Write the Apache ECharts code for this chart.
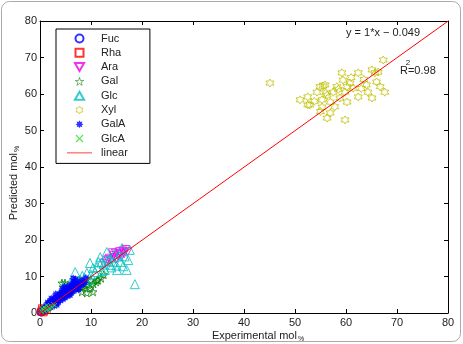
<!DOCTYPE html>
<html><head><meta charset="utf-8">
<script src="https://cdn.jsdelivr.net/npm/echarts@6/dist/echarts.min.js"></script>
<style>html,body{margin:0;padding:0;background:#fff}#c{width:463px;height:344px}</style>
</head><body><div id="c"></div>
<script>
const xTicks = [0,10,20,30,40,50,60,70,80];
const yTicks = [0,10,20,30,40,50,60,70,80];
const seriesNames = ['Fuc','Rha','Ara','Gal','Glc','Xyl','GalA','GlcA','linear'];

const fuc = [[0.1,0.2],[0.3,0.1],[0.2,0.5],[0.5,0.3],[0.6,0.7]];
const rha = [[0.2,0.4],[0.5,0.9],[0.8,0.5],[1,1.1],[0.4,1.3],[1.3,0.8],[0.7,0.2]];
const ara = [[12.5,13.5],[13,14],[13.6,15],[14,14.5],[14.4,15.8],[14.8,16.4],[15,14.8],[15.3,15.6],[15.6,16.8],[16,15.5],[16.2,17],[16.5,16.2],[16.8,17.4],[17.2,16.8],[15.8,16.2],[14.2,16.5],[13.3,14.6],[15.5,16],[16.4,16.6],[14.6,15.2]];
const gal = [[2.5,3],[3.5,4.5],[4.3,8.2],[4.9,8.2],[5,6],[5.5,7.7],[6,6.5],[6.3,6.3],[6.5,7.5],[7,6.8],[7.5,8],[8,7],[8.2,5.8],[8.4,7.1],[8.5,8.5],[9,7.5],[9.2,5.5],[9.4,7.7],[9.8,6.8],[10,9],[10.4,5.8],[10.5,8],[11,8.5],[11.2,9],[11.4,9],[12,9.5],[12.5,10.5],[6.8,8.8],[5.8,6.2],[7.8,9.2]];
const glc = [[4.5,7.1],[5.2,6.5],[5.9,8.2],[6.5,7.4],[6.9,11.2],[7.3,8.5],[7.8,9],[8.3,10.2],[8.8,9.5],[9.2,11],[9.8,13.7],[10,10.5],[10.4,12.3],[10.8,11.2],[11.2,12.6],[11.5,14],[11.8,15.3],[12.2,11.5],[12.5,13.3],[12.7,11.8],[13.1,16.7],[13.4,14.3],[13.7,15],[14,12.5],[14.3,14],[14.6,16.2],[15,13],[15.1,11.8],[15.5,15.5],[15.8,14],[16.1,17.8],[16.3,12.8],[16.6,15.5],[17,11.8],[17.3,14.5],[17.6,17.3],[18.6,7.9],[12,13.8],[13.8,13.2],[9.5,9]];
const xyl = [[45.1,63],[51,58.4],[52.5,59.2],[52.5,57],[52.9,57],[54.3,60.5],[54.9,62],[55.3,58.4],[55.3,56.4],[55.5,62.2],[55.9,62.5],[56,60.3],[56.3,59.7],[56.3,53.4],[56.9,57.8],[56.9,54.8],[57.5,60.5],[58.2,62],[58.8,58.9],[59.2,65.8],[59.4,63.8],[59.8,60.5],[59.8,52.9],[60.2,57.8],[60.2,62],[60.8,63],[61.4,61.6],[62.4,65.8],[62.4,59.2],[64.3,60.5],[65.1,66.6],[65.1,58.9],[65.7,65.8],[66,63.3],[66.7,62],[67.3,69.3],[67.6,60.5],[63.5,64],[64,62.5],[57.8,56.5],[61,64.5],[63,61.5],[66.3,66],[58.5,61.3],[53.8,58],[55,55.2]];
const galA = [[0.5,0.8],[0.8,1.5],[1,0.6],[1.2,2],[1.5,1.2],[1.6,2.6],[1.8,1.8],[2,3.2],[2.1,1.5],[2.3,2.4],[2.5,3.8],[2.6,2.9],[2.8,2],[3,4.3],[3,3.3],[3.2,2.6],[3.4,3.9],[3.5,4.8],[3.6,3],[3.8,5.2],[3.9,4.1],[4,3.4],[4.2,5.6],[4.3,4.6],[4.5,3.8],[4.6,6.1],[4.7,5],[4.9,4.2],[5,6.6],[5.1,5.5],[5.3,4.6],[5.4,7],[5.5,6],[5.7,5],[5.8,7.5],[6,6.4],[6.1,5.5],[6.3,8],[6.4,7],[6.6,6],[6.7,8.6],[6.9,7.4],[7,9.2],[7.2,6.5],[7.3,8],[7.5,7],[7.8,8.5],[8,7.6],[8.2,9],[8.4,7.8],[8.8,8.4],[9,9.6],[2,2.8],[2.7,3.5],[4.1,5],[5.2,6.3],[6.2,7.6],[1.3,1],[0.9,1.1],[6.5,9.5],[1.5,2.9],[2.2,4],[3.1,5.2],[4.4,6.6],[3.3,2.2],[5.9,4.9],[7.6,6.4],[4.8,7.2]];
const glcA = [[0.3,0.4],[0.6,0.9],[0.9,0.5],[1.1,1.3],[1.4,0.9],[1.6,1.7],[1.9,1.2],[2.1,2],[2.4,1.6],[2.6,2.4],[0.8,1.6],[1.3,2.1],[2.9,2.1],[1.7,0.7],[0.4,1.2]];
const fitLine = [[0,-0.049],[80,79.951]];

const PENTA = 'path://M50 0 L61.17 34.63 L97.55 34.55 L68.07 55.87 L79.39 90.45 L50 69 L20.61 90.45 L31.93 55.87 L2.45 34.55 L38.83 34.63 Z';
const HEXA = 'path://M50 0 L64.43 25 L93.3 25 L78.87 50 L93.3 75 L64.43 75 L50 100 L35.57 75 L6.7 75 L21.13 50 L6.7 25 L35.57 25 Z';
const STAR8 = 'path://M50 0 L61.48 22.28 L85.36 14.64 L77.72 38.52 L100 50 L77.72 61.48 L85.36 85.36 L61.48 77.72 L50 100 L38.52 77.72 L14.64 85.36 L22.28 61.48 L0 50 L22.28 38.52 L14.64 14.64 L38.52 22.28 Z';
const XMARK = 'path://M0 12 L12 0 L50 38 L88 0 L100 12 L62 50 L100 88 L88 100 L50 62 L12 100 L0 88 L38 50 Z';
const SQUARE = 'path://M0 0 L100 0 L100 100 L0 100 Z';
const TRI_UP = 'path://M50 0 L100 87 L0 87 Z';
const TRI_DOWN = 'path://M0 0 L100 0 L50 87 Z';
const CIRCLE = 'path://M50 0 A50 50 0 1 1 49.99 0 Z';
const HLINE = 'path://M0 0 L100 0 L100 3 L0 3 Z';

const FONT = 'Liberation Sans, Arial, sans-serif';
function hollow(name, data, symbol, size, color) {
  return {name, type:'scatter', data, symbol, symbolSize:size,
    itemStyle:{color:'rgba(0,0,0,0)', borderColor:color, borderWidth:1}, animation:false};
}
function filled(name, data, symbol, size, color) {
  return {name, type:'scatter', data, symbol, symbolSize:size,
    itemStyle:{color:color, borderWidth:0}, animation:false};
}
function mkAxis(pos, showLabel, ticks) {
  return {type:'value', position:pos, min:0, max:80, interval:10,
    splitLine:{show:false},
    axisLine:{show:true, onZero:false, lineStyle:{color:'#000', width:1}},
    axisTick:{show:true, inside:true, length:4, lineStyle:{color:'#000', width:1}},
    axisLabel:{show:showLabel, color:'#222', fontSize:11, fontFamily:FONT, margin:(pos==='bottom'?4:3),
      formatter:(v)=> ticks.includes(v) ? String(v) : ''}};
}

const chart = echarts.init(document.getElementById('c'));
chart.setOption({
  animation:false,
  backgroundColor:'#fff',
  grid:{left:40, right:15, top:21, bottom:31},
  xAxis:[ mkAxis('bottom', true, xTicks), mkAxis('top', false, xTicks) ],
  yAxis:[ mkAxis('left', true, yTicks), mkAxis('right', false, yTicks) ],
  legend:{
    data:[
      {name:'Fuc', icon:CIRCLE},
      {name:'Rha', icon:SQUARE},
      {name:'Ara', icon:TRI_DOWN},
      {name:'Gal', icon:PENTA, itemStyle:{borderWidth:0.7}},
      {name:'Glc', icon:TRI_UP},
      {name:'Xyl', icon:HEXA, itemStyle:{borderWidth:0.8}},
      {name:'GalA', icon:STAR8},
      {name:'GlcA', icon:XMARK},
      {name:'linear', icon:HLINE}
    ],
    orient:'vertical', left:56, top:29,
    padding:[4,22,5,11], itemWidth:25, itemHeight:8, itemGap:3.3,
    backgroundColor:'#fff', borderColor:'#000', borderWidth:1, borderRadius:0,
    selectedMode:false, symbolRotate:0,
    textStyle:{color:'#222', fontSize:11, fontFamily:FONT, padding:[0,0,0,4]}
  },
  series:[
    hollow('Fuc', fuc, 'circle', 7, '#0000ff'),
    hollow('Rha', rha, 'rect', 7, '#ff0000'),
    hollow('Ara', ara, TRI_DOWN, 8, '#ee00ee'),
    hollow('Gal', gal, PENTA, 8, '#007f00'),
    hollow('Glc', glc, TRI_UP, 9, '#00bfbf'),
    hollow('Xyl', xyl, HEXA, 8, '#bfbf00'),
    filled('GalA', galA, STAR8, 8, '#0000ff'),
    filled('GlcA', glcA, XMARK, 5, '#33dd33'),
    {name:'linear', type:'line', data:fitLine, symbol:'none', showSymbol:false,
      lineStyle:{color:'#ff0000', width:1}, itemStyle:{color:'#ff0000'}, animation:false}
  ],
  graphic:[
    {type:'rect', silent:true, z:-1, shape:{x:1.5, y:1.5, width:459, height:340, r:8},
      style:{fill:'none', stroke:'#aaaaaa', lineWidth:1}},
    {type:'text', x:383, y:33, style:{text:'y = 1*x \u2212 0.049', fill:'#222', font:'11px '+FONT, align:'center', verticalAlign:'middle'}},
    {type:'text', x:400, y:71, style:{text:'R=0.98', fill:'#222', font:'11px '+FONT, align:'left', verticalAlign:'middle'}},
    {type:'text', x:408, y:63, style:{text:'2', fill:'#222', font:'8px '+FONT, align:'center', verticalAlign:'middle'}},
    {type:'text', x:258, y:336, style:{text:'{a|Experimental mol}{s|%}', align:'center', verticalAlign:'middle',
      rich:{a:{fontSize:11, fontFamily:FONT, fill:'#222', lineHeight:14}, s:{fontSize:7, fontFamily:FONT, fill:'#222', lineHeight:14, verticalAlign:'bottom', padding:[4,0,0,1]}}}},
    {type:'text', x:14, y:183, rotation:Math.PI/2, style:{text:'{a|Predicted mol}{s|%}', align:'center', verticalAlign:'middle',
      rich:{a:{fontSize:11, fontFamily:FONT, fill:'#222', lineHeight:14}, s:{fontSize:7, fontFamily:FONT, fill:'#222', lineHeight:14, verticalAlign:'bottom', padding:[4,0,0,1]}}}}
  ]
});
</script></body></html>
